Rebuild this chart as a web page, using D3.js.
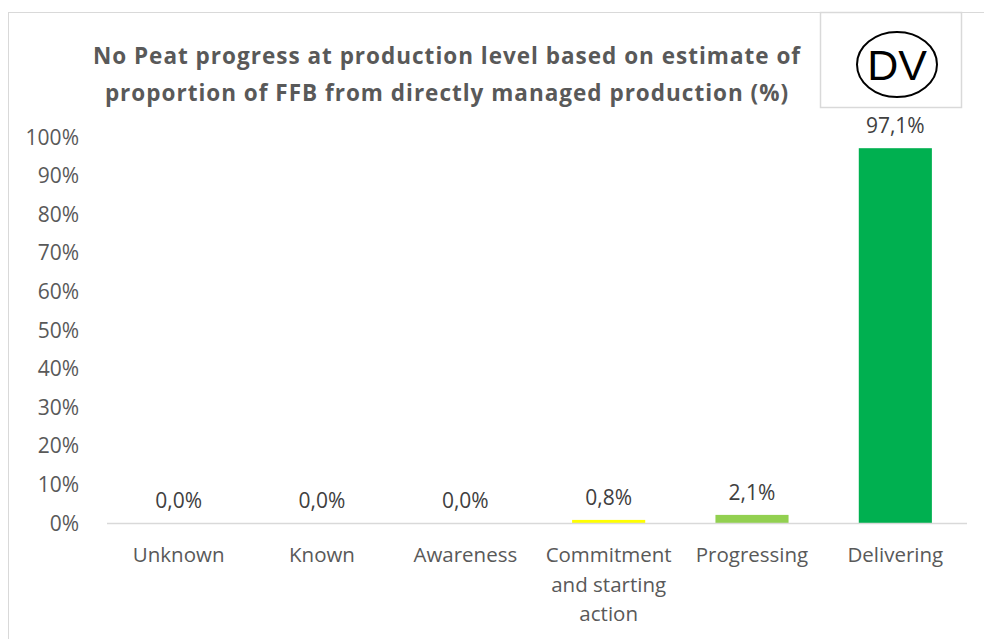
<!DOCTYPE html>
<html>
<head>
<meta charset="utf-8">
<script src="https://cdn.jsdelivr.net/npm/d3@7"></script>
<style>
  body { margin: 0; background: #fff; }
  svg text { font-family: "Open Sans", sans-serif; }
</style>
</head>
<body>
<div class="container"></div>
<script>
const width = 984, height = 639;

const categories = ["Unknown", "Known", "Awareness", "Commitment and starting action", "Progressing", "Delivering"];
const categoryLines = [["Unknown"], ["Known"], ["Awareness"], ["Commitment", "and starting", "action"], ["Progressing"], ["Delivering"]];
const values = [0.0, 0.0, 0.0, 0.8, 2.1, 97.1];
const barColors = ["#FFFF00", "#FFFF00", "#FFFF00", "#FFFF00", "#92D050", "#00B050"];
const yTicks = [0, 10, 20, 30, 40, 50, 60, 70, 80, 90, 100];
const titleLines = ["No Peat progress at production level based on estimate of", "proportion of FFB from directly managed production (%)"];

const margin = {left: 107, right: 17, top: 137, bottom: 116};

const svg = d3.select(".container")
    .append("svg")
    .attr("width", width)
    .attr("height", height);

// chart frame
svg.append("rect")
    .attr("x", 8.5).attr("y", 12.5)
    .attr("width", 1000).attr("height", 700)
    .attr("fill", "#fff").attr("stroke", "#d9d9d9");

const x = d3.scaleBand()
    .domain(categories)
    .range([margin.left, width - margin.right])
    .paddingInner(0.49).paddingOuter(0.245);

const y = d3.scaleLinear()
    .domain([0, 100])
    .range([height - margin.bottom, margin.top]);

// y axis labels
svg.append("g")
    .selectAll("text")
    .data(yTicks)
    .enter()
    .append("text")
    .attr("x", 79)
    .attr("y", d => y(d) + 7.5)
    .attr("text-anchor", "end")
    .attr("font-size", 21)
    .attr("fill", "#595959")
    .text(d => d + "%");

// bars
svg.append("g")
    .selectAll("rect")
    .data(values)
    .enter()
    .append("rect")
    .attr("x", (d, i) => x(categories[i]))
    .attr("y", d => y(d))
    .attr("width", x.bandwidth())
    .attr("height", d => y(0) - y(d))
    .attr("fill", (d, i) => barColors[i]);

// baseline
svg.append("line")
    .attr("x1", margin.left).attr("x2", width - margin.right)
    .attr("y1", y(0) + 0.5).attr("y2", y(0) + 0.5)
    .attr("stroke", "#d9d9d9").attr("stroke-width", 1.5);

// data labels
svg.append("g")
    .selectAll("text")
    .data(values)
    .enter()
    .append("text")
    .attr("x", (d, i) => x(categories[i]) + x.bandwidth() / 2)
    .attr("y", d => y(d) - 15)
    .attr("text-anchor", "middle")
    .attr("font-size", 21)
    .attr("fill", "#404040")
    .text(d => d.toFixed(1).replace(".", ",") + "%");

// category labels
const cat = svg.append("g")
    .selectAll("text")
    .data(categoryLines)
    .enter()
    .append("text")
    .attr("x", (d, i) => x(categories[i]) + x.bandwidth() / 2)
    .attr("y", 562)
    .attr("text-anchor", "middle")
    .attr("font-size", 20.5)
    .attr("fill", "#595959");
cat.selectAll("tspan")
    .data(d => d)
    .enter()
    .append("tspan")
    .attr("x", function () { return d3.select(this.parentNode).attr("x"); })
    .attr("dy", (d, i) => i === 0 ? 0 : 29.5)
    .text(d => d);

// title
svg.append("g")
    .selectAll("text")
    .data(titleLines)
    .enter()
    .append("text")
    .attr("x", 447)
    .attr("y", (d, i) => 64 + i * 37)
    .attr("text-anchor", "middle")
    .attr("font-size", 22.5)
    .attr("letter-spacing", 1)
    .attr("font-weight", "bold")
    .attr("fill", "#595959")
    .text(d => d);

// DV badge
const badge = svg.append("g");
badge.append("rect")
    .attr("x", 820.5).attr("y", 12.5)
    .attr("width", 141).attr("height", 95)
    .attr("fill", "#fff").attr("stroke", "#d9d9d9").attr("stroke-width", 1.5);
badge.append("ellipse")
    .attr("cx", 897).attr("cy", 64.5)
    .attr("rx", 40).attr("ry", 32.5)
    .attr("fill", "none").attr("stroke", "#000").attr("stroke-width", 2);
badge.append("text")
    .attr("x", 897).attr("y", 80)
    .attr("text-anchor", "middle")
    .attr("font-size", 43)
    .attr("fill", "#000")
    .style("font-family", "'Liberation Sans', Arial, sans-serif")
    .text("DV");
</script>
</body>
</html>
